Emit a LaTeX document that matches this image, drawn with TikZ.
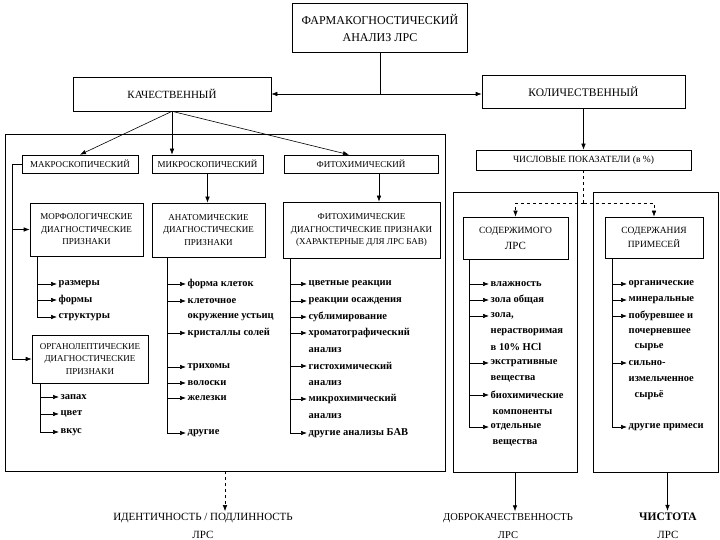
\documentclass[tikz,border=0pt]{standalone}
\usepackage{fontspec}
\setmainfont{Liberation Serif}
\usetikzlibrary{arrows.meta}
\tikzset{
  hdr/.style={draw, line width=0.6pt, align=center, inner sep=1pt, font=\fontsize{9}{12.5}\selectfont},
  frame/.style={draw, line width=0.6pt, inner sep=0pt},
  entry/.style={anchor=west, inner sep=1.5pt, font=\bfseries\fontsize{10.5}{12}\selectfont},
  arr/.style={-{Latex[length=6pt,width=4.5pt]}, line width=0.6pt},
  dbl/.style={{Latex[length=6pt,width=4.5pt]}-{Latex[length=6pt,width=4.5pt]}, line width=0.6pt},
  outcome/.style={align=center, inner sep=2pt, font=\fontsize{11}{18}\selectfont},
}
\begin{document}
\begin{tikzpicture}[x=1pt,y=-1pt]
\useasboundingbox (0,0) rectangle (720,540);

% top level
\node[hdr, minimum width=175pt, minimum height=49pt, font=\fontsize{12}{17}\selectfont] (farm) at (380,27.5) {ФАРМАКОГНОСТИЧЕСКИЙ\\АНАЛИЗ ЛРС};
\node[hdr, minimum width=198pt, minimum height=34pt, font=\fontsize{11}{12}\selectfont] (kach) at (172,94) {КАЧЕСТВЕННЫЙ};
\node[hdr, minimum width=203pt, minimum height=33pt, font=\fontsize{11.5}{12}\selectfont] (kol) at (583.5,92) {КОЛИЧЕСТВЕННЫЙ};
\draw[line width=0.6pt] (farm.south) -- (farm.south |- kach.east);
\draw[dbl] (kach.east) -- (kach.east -| kol.west);

% qualitative part
\node[frame, minimum width=440pt, minimum height=337pt] (qual) at (225,302.5) {};
\node[hdr, minimum width=116pt, minimum height=18pt] (makro) at (80,164) {МАКРОСКОПИЧЕСКИЙ};
\node[hdr, minimum width=111pt, minimum height=18pt] (mikro) at (207.5,164) {МИКРОСКОПИЧЕСКИЙ};
\node[hdr, minimum width=154pt, minimum height=18pt] (fito) at (361,164) {ФИТОХИМИЧЕСКИЙ};
\draw[arr] (kach.south) -- (makro.north);
\draw[arr] (kach.south) -- (kach.south |- mikro.north);
\draw[arr] (kach.south) -- ([xshift=-12pt]fito.north);

\node[hdr, minimum width=113pt, minimum height=53pt] (morph) at (86.5,229.5) {МОРФОЛОГИЧЕСКИЕ\\ДИАГНОСТИЧЕСКИЕ\\ПРИЗНАКИ};
\node[hdr, minimum width=113pt, minimum height=54pt] (anat) at (208.5,230) {АНАТОМИЧЕСКИЕ\\ДИАГНОСТИЧЕСКИЕ\\ПРИЗНАКИ};
\node[hdr, minimum width=157pt, minimum height=56pt, font=\fontsize{9}{12.5}\selectfont] (fito2) at (361.5,230) {ФИТОХИМИЧЕСКИЕ\\ДИАГНОСТИЧЕСКИЕ ПРИЗНАКИ\\(ХАРАКТЕРНЫЕ ДЛЯ ЛРС БАВ)};
\node[hdr, minimum width=116pt, minimum height=48pt] (organo) at (90,359) {ОРГАНОЛЕПТИЧЕСКИЕ\\ДИАГНОСТИЧЕСКИЕ\\ПРИЗНАКИ};
\draw[arr] (mikro.south) -- (mikro.south |- anat.north);
\draw[arr] ([xshift=18pt]fito.south) -- ([xshift=18pt]fito.south |- fito2.north);
\coordinate (mbus) at ([xshift=-9pt]makro.west);
\draw[line width=0.6pt] (makro.west) -- (mbus);
\draw[arr] (mbus) |- (morph.west);
\draw[arr] (mbus) |- (organo.west);

% signs
\foreach \y/\t in {284/размеры, 300/формы, 317/структуры}{
  \node[entry] (morph\y) at (57,\y) {\t};
  \draw[arr] (morph.south -| 37,0) |- (morph\y.west);
}
\foreach \y/\t in {397/запах, 414/цвет, 432/вкус}{
  \node[entry] (organo\y) at (59,\y) {\t};
  \draw[arr] (organo.south -| 40,0) |- (organo\y.west);
}
\foreach \y/\t in {284/форма клеток, 301/клеточное, 333/кристаллы солей, 367/трихомы, 383/волоски, 398/железки, 433/другие}{
  \node[entry] (anat\y) at (186,\y) {\t};
  \draw[arr] (anat.south -| 167,0) |- (anat\y.west);
}
\node[entry] (anat317) at (186,317) {окружение устьиц};
\foreach \y/\t in {284/цветные реакции, 301/реакции осаждения, 317/сублимирование, 333/хроматографический, 366/гистохимический, 399/микрохимический, 433/другие анализы БАВ}{
  \node[entry] (fito\y) at (307,\y) {\t};
  \draw[arr] (fito2.south -| 290,0) |- (fito\y.west);
}
\foreach \y in {350, 383, 416}
  \node[entry] (fitoan\y) at (307,\y) {анализ};

% quantitative part
\node[hdr, minimum width=215pt, minimum height=20pt, font=\fontsize{9.5}{12}\selectfont] (num) at (583.5,160) {ЧИСЛОВЫЕ ПОКАЗАТЕЛИ (в \%)};
\draw[arr] (kol.south) -- (num.north);
\node[frame, minimum width=124pt, minimum height=280pt] (sodframe) at (515,332) {};
\node[frame, minimum width=125pt, minimum height=280pt] (primframe) at (655.5,332) {};
\node[hdr, minimum width=105pt, minimum height=42pt, font=\fontsize{9.5}{16}\selectfont] (sod) at (515.5,238) {СОДЕРЖИМОГО\\{\fontsize{11}{16}\selectfont ЛРС}};
\node[hdr, minimum width=98pt, minimum height=41pt, font=\fontsize{9.5}{14}\selectfont] (prim) at (654,237.5) {СОДЕРЖАНИЯ\\ПРИМЕСЕЙ};
\draw[dashed, line width=0.6pt] (num.south) -- ++(0,33) coordinate (nsplit);
\draw[arr, dashed] (nsplit) -| (sod.north);
\draw[arr, dashed] (nsplit) -| (prim.north);

\foreach \y/\t in {284/влажность, 300/зола общая, 316/{зола,}, 363/экстративные, 395/биохимические, 427/отдельные}{
  \node[entry] (sod\y) at (489,\y) {\t};
  \draw[arr] (sod.south -| 469,0) |- (sod\y.west);
}
\node[entry] (sod332) at (489,332) {нерастворимая};
\node[entry] (sod347) at (489,347) {в 10\% HCl};
\node[entry] (sod379) at (489,379) {вещества};
\node[entry] (sod412) at (491,412) {компоненты};
\node[entry] (sod443) at (491,443) {вещества};

\foreach \y/\t in {284/органические, 300/минеральные, 316/побуревшее и, 363/сильно-, 427/другие примеси}{
  \node[entry] (prim\y) at (627,\y) {\t};
  \draw[arr] (prim.south -| 612,0) |- (prim\y.west);
}
\node[entry] (prim332) at (627,332) {почерневшее};
\node[entry] (prim347) at (633,347) {сырье};
\node[entry] (prim379) at (627,379) {измельченное};
\node[entry] (prim395) at (633,395) {сырьё};

% results
\node[outcome] (ident) at (203,526) {ИДЕНТИЧНОСТЬ / ПОДЛИННОСТЬ\\ЛРС};
\node[outcome, font=\fontsize{10.5}{18}\selectfont] (dobro) at (508,526) {ДОБРОКАЧЕСТВЕННОСТЬ\\ЛРС};
\node[outcome] (chist) at (668,526) {{\bfseries\fontsize{11.5}{18}\selectfont ЧИСТОТА}\\ЛРС};
\draw[arr, dashed] (qual.south) -- (qual.south |- ident.north);
\draw[arr] (sodframe.south) -- (sodframe.south |- dobro.north);
\draw[arr] ([xshift=12pt]primframe.south) -- ([xshift=12pt]primframe.south |- chist.north);
\end{tikzpicture}
\end{document}
